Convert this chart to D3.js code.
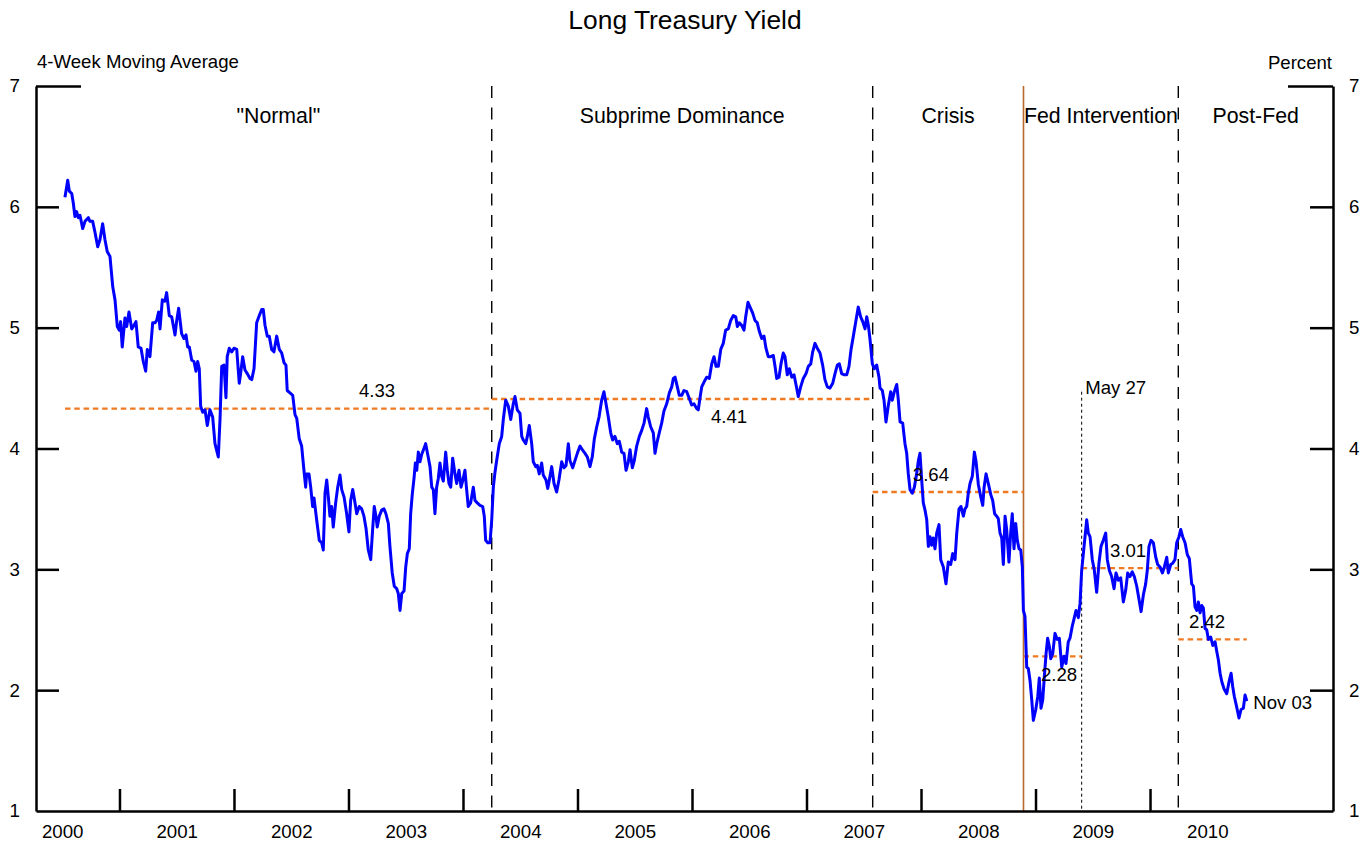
<!DOCTYPE html>
<html>
<head>
<meta charset="utf-8">
<script src="https://cdn.jsdelivr.net/npm/d3@7"></script>
<style>
  body { margin: 0; background: #fff; }
  svg { display: block; font-family: "Liberation Sans", Arial, sans-serif; }
  .axis path, .axis line { stroke: #000; stroke-width: 2.5; }
  .axis text { font-size: 18.7px; fill: #000; }
</style>
</head>
<body>
<svg id="chart" width="1372" height="843"></svg>
<script>
// weekly 4-week moving average, dates as decimal years
const weekDate = [
  2000.524,2000.548,2000.562,2000.583,2000.597,2000.611,2000.626,2000.640,2000.655,2000.679,
  2000.699,2000.728,2000.742,2000.766,2000.786,2000.810,2000.830,2000.853,2000.873,2000.893,
  2000.917,2000.941,2000.961,2000.981,2000.998,2001.010,2001.024,2001.048,2001.063,2001.083,
  2001.107,2001.121,2001.144,2001.164,2001.188,2001.208,2001.229,2001.243,2001.266,2001.290,
  2001.310,2001.325,2001.342,2001.354,2001.374,2001.397,2001.412,2001.435,2001.456,2001.485,
  2001.500,2001.517,2001.543,2001.563,2001.581,2001.596,2001.610,2001.631,2001.651,2001.668,
  2001.683,2001.697,2001.709,2001.727,2001.747,2001.767,2001.790,2001.814,2001.834,2001.863,
  2001.878,2001.893,2001.913,2001.930,2001.941,2001.959,2001.980,2002.000,2002.024,2002.046,
  2002.058,2002.076,2002.096,2002.116,2002.140,2002.155,2002.175,2002.198,2002.221,2002.242,
  2002.256,2002.271,2002.291,2002.308,2002.329,2002.349,2002.373,2002.396,2002.417,2002.437,
  2002.454,2002.465,2002.489,2002.513,2002.533,2002.548,2002.570,2002.591,2002.611,2002.626,
  2002.634,2002.655,2002.670,2002.687,2002.699,2002.722,2002.745,2002.766,2002.780,2002.795,
  2002.810,2002.824,2002.838,2002.853,2002.867,2002.888,2002.906,2002.926,2002.941,2002.961,
  2002.984,2003.004,2003.019,2003.037,2003.057,2003.072,2003.094,2003.115,2003.135,2003.153,
  2003.173,2003.194,2003.211,2003.225,2003.240,2003.251,2003.269,2003.290,2003.310,2003.327,
  2003.348,2003.362,2003.382,2003.400,2003.421,2003.435,2003.450,2003.465,2003.485,2003.500,
  2003.514,2003.531,2003.543,2003.557,2003.572,2003.584,2003.596,2003.610,2003.624,2003.639,
  2003.659,2003.674,2003.692,2003.712,2003.727,2003.741,2003.755,2003.770,2003.784,2003.799,
  2003.814,2003.828,2003.849,2003.863,2003.878,2003.893,2003.910,2003.930,2003.945,2003.965,
  2003.983,2003.997,2004.017,2004.032,2004.046,2004.067,2004.090,2004.105,2004.125,2004.148,
  2004.172,2004.186,2004.198,2004.216,2004.236,2004.251,2004.265,2004.279,2004.294,2004.317,
  2004.338,2004.352,2004.373,2004.396,2004.417,2004.439,2004.454,2004.474,2004.498,2004.513,
  2004.527,2004.548,2004.562,2004.579,2004.600,2004.614,2004.635,2004.649,2004.666,2004.687,
  2004.701,2004.725,2004.740,2004.754,2004.775,2004.795,2004.818,2004.838,2004.862,2004.882,
  2004.900,2004.920,2004.934,2004.958,2004.978,2005.002,2005.022,2005.042,2005.066,2005.086,
  2005.109,2005.129,2005.147,2005.168,2005.188,2005.211,2005.231,2005.249,2005.269,2005.290,
  2005.307,2005.327,2005.348,2005.365,2005.386,2005.406,2005.424,2005.444,2005.459,2005.479,
  2005.496,2005.517,2005.540,2005.561,2005.581,2005.604,2005.618,2005.639,2005.662,2005.677,
  2005.692,2005.714,2005.735,2005.755,2005.779,2005.802,2005.823,2005.837,2005.852,2005.872,
  2005.889,2005.910,2005.930,2005.954,2005.974,2005.997,2006.017,2006.041,2006.055,2006.070,
  2006.085,2006.105,2006.128,2006.151,2006.172,2006.192,2006.210,2006.230,2006.251,2006.273,
  2006.294,2006.317,2006.338,2006.361,2006.382,2006.396,2006.413,2006.434,2006.454,2006.469,
  2006.489,2006.507,2006.530,2006.550,2006.570,2006.588,2006.609,2006.629,2006.646,2006.666,
  2006.687,2006.710,2006.725,2006.740,2006.760,2006.777,2006.797,2006.812,2006.832,2006.850,
  2006.871,2006.891,2006.908,2006.928,2006.949,2006.972,2006.996,2007.016,2007.037,2007.054,
  2007.074,2007.094,2007.118,2007.141,2007.161,2007.182,2007.205,2007.229,2007.249,2007.269,
  2007.287,2007.307,2007.327,2007.351,2007.371,2007.389,2007.409,2007.432,2007.452,2007.473,
  2007.491,2007.511,2007.526,2007.540,2007.555,2007.575,2007.593,2007.613,2007.633,2007.642,
  2007.662,2007.677,2007.694,2007.715,2007.735,2007.749,2007.767,2007.788,2007.802,2007.817,
  2007.840,2007.860,2007.875,2007.889,2007.904,2007.924,2007.942,2007.962,2007.977,2007.991,
  2008.006,2008.020,2008.035,2008.050,2008.064,2008.079,2008.093,2008.107,2008.122,2008.137,
  2008.157,2008.172,2008.195,2008.218,2008.238,2008.259,2008.277,2008.297,2008.312,2008.332,
  2008.349,2008.370,2008.384,2008.399,2008.413,2008.428,2008.448,2008.466,2008.481,2008.501,
  2008.522,2008.539,2008.551,2008.568,2008.588,2008.609,2008.626,2008.643,2008.661,2008.675,
  2008.690,2008.705,2008.719,2008.734,2008.748,2008.768,2008.783,2008.797,2008.812,2008.827,
  2008.841,2008.856,2008.871,2008.885,2008.894,2008.908,2008.923,2008.937,2008.952,2008.967,
  2008.981,2009.002,2009.020,2009.033,2009.048,2009.063,2009.077,2009.092,2009.106,2009.121,
  2009.133,2009.150,2009.170,2009.190,2009.208,2009.229,2009.249,2009.266,2009.286,2009.301,
  2009.321,2009.339,2009.354,2009.374,2009.389,2009.403,2009.424,2009.447,2009.461,2009.476,
  2009.496,2009.514,2009.534,2009.554,2009.572,2009.592,2009.613,2009.627,2009.645,2009.665,
  2009.686,2009.703,2009.723,2009.744,2009.767,2009.788,2009.805,2009.825,2009.845,2009.863,
  2009.884,2009.904,2009.922,2009.942,2009.962,2009.976,2009.991,2010.009,2010.029,2010.050,
  2010.067,2010.087,2010.108,2010.125,2010.146,2010.160,2010.181,2010.198,2010.218,2010.233,
  2010.253,2010.268,2010.285,2010.306,2010.326,2010.343,2010.364,2010.379,2010.393,2010.408,
  2010.422,2010.437,2010.452,2010.466,2010.481,2010.495,2010.510,2010.530,2010.548,2010.568,
  2010.583,2010.597,2010.612,2010.627,2010.647,2010.670,2010.690,2010.708,2010.722,2010.736,
  2010.757,2010.777,2010.795,2010.815,2010.830,2010.845
];
const weekYield = [
  6.08,6.22,6.13,6.11,6.03,5.92,5.96,5.91,5.93,5.82,
  5.88,5.91,5.88,5.88,5.79,5.67,5.73,5.86,5.73,5.63,
  5.59,5.34,5.23,5.01,4.98,5.05,4.84,5.08,5.01,5.13,
  4.99,5.01,5.05,4.84,4.83,4.72,4.64,4.82,4.76,5.04,
  5.04,5.06,5.13,4.99,5.23,5.22,5.29,5.10,5.09,4.94,
  5.06,5.16,4.95,4.91,4.94,4.84,4.84,4.73,4.72,4.64,
  4.72,4.66,4.35,4.30,4.32,4.19,4.32,4.26,4.04,3.93,
  4.24,4.68,4.69,4.42,4.76,4.83,4.80,4.83,4.82,4.54,
  4.62,4.76,4.65,4.62,4.58,4.57,4.66,5.04,5.10,5.15,
  5.15,5.02,4.93,4.93,4.82,4.80,4.93,4.82,4.79,4.71,
  4.69,4.48,4.46,4.44,4.28,4.25,4.08,4.02,3.82,3.68,
  3.79,3.79,3.68,3.52,3.59,3.41,3.24,3.22,3.16,3.63,
  3.74,3.60,3.44,3.52,3.35,3.55,3.68,3.78,3.66,3.60,
  3.46,3.31,3.57,3.66,3.55,3.46,3.52,3.50,3.44,3.34,
  3.16,3.08,3.33,3.52,3.44,3.35,3.44,3.49,3.50,3.46,
  3.38,3.19,2.97,2.86,2.84,2.80,2.66,2.80,2.82,3.02,
  3.13,3.17,3.46,3.62,3.75,3.88,3.82,3.97,3.89,3.95,
  4.00,4.04,3.95,3.85,3.68,3.66,3.46,3.68,3.75,3.88,
  3.77,3.73,3.97,3.82,3.71,3.68,3.92,3.79,3.71,3.82,
  3.68,3.73,3.82,3.66,3.52,3.55,3.68,3.57,3.55,3.53,
  3.52,3.44,3.24,3.22,3.22,3.41,3.68,3.80,3.90,4.04,
  4.10,4.24,4.40,4.35,4.24,4.37,4.43,4.32,4.29,4.10,
  4.07,4.04,4.10,4.19,4.04,3.89,3.85,3.86,3.79,3.88,
  3.78,3.74,3.67,3.74,3.85,3.71,3.64,3.74,3.89,3.84,
  3.86,4.04,3.90,3.84,3.90,3.97,4.02,3.99,3.96,3.93,
  3.85,3.93,4.08,4.18,4.26,4.40,4.47,4.37,4.26,4.13,
  4.07,4.10,4.04,4.06,3.97,3.96,3.82,3.89,3.99,3.84,
  3.90,4.02,4.10,4.15,4.21,4.33,4.26,4.18,4.13,3.96,
  4.04,4.13,4.21,4.31,4.37,4.46,4.51,4.58,4.59,4.51,
  4.44,4.44,4.48,4.47,4.42,4.36,4.37,4.33,4.32,4.42,
  4.51,4.55,4.59,4.58,4.70,4.76,4.68,4.68,4.82,4.87,
  4.98,4.99,5.06,5.10,5.09,5.01,5.04,5.02,4.98,5.09,
  5.21,5.17,5.12,5.06,5.04,4.97,4.91,4.93,4.83,4.76,
  4.76,4.77,4.68,4.58,4.59,4.70,4.79,4.76,4.61,4.66,
  4.59,4.61,4.53,4.43,4.51,4.58,4.62,4.68,4.70,4.80,
  4.87,4.83,4.79,4.69,4.57,4.51,4.50,4.54,4.62,4.69,
  4.70,4.62,4.61,4.61,4.68,4.82,4.93,5.06,5.17,5.09,
  5.05,4.99,5.09,5.02,4.90,4.70,4.66,4.69,4.59,4.50,
  4.48,4.40,4.22,4.36,4.47,4.40,4.47,4.53,4.40,4.22,
  4.21,4.04,3.96,3.79,3.66,3.63,3.68,3.79,3.90,3.96,
  3.74,3.55,3.49,3.41,3.19,3.27,3.20,3.26,3.17,3.30,
  3.37,3.08,3.02,2.88,3.06,3.04,3.13,3.08,3.30,3.50,
  3.52,3.44,3.50,3.52,3.63,3.71,3.77,3.97,3.89,3.70,
  3.60,3.53,3.68,3.79,3.71,3.62,3.57,3.46,3.44,3.42,
  3.30,3.26,3.04,3.44,3.33,3.06,3.30,3.46,3.17,3.38,
  3.24,3.17,3.16,3.02,2.66,2.61,2.19,2.18,2.08,1.92,
  1.75,1.84,1.95,2.10,1.85,1.92,2.11,2.30,2.43,2.36,
  2.26,2.30,2.47,2.42,2.43,2.19,2.28,2.22,2.40,2.43,
  2.53,2.60,2.66,2.60,2.72,2.99,3.19,3.41,3.30,3.27,
  3.08,2.99,2.81,3.05,3.19,3.24,3.30,3.08,2.99,2.94,
  2.84,2.97,2.91,2.93,2.73,2.83,2.97,2.94,2.98,2.94,
  2.86,2.75,2.65,2.79,2.88,2.99,3.19,3.24,3.22,3.10,
  3.04,3.02,2.97,3.02,3.10,2.97,3.04,3.05,3.08,3.22,
  3.27,3.33,3.27,3.22,3.12,3.09,2.88,2.86,2.69,2.66,
  2.73,2.64,2.70,2.68,2.51,2.50,2.42,2.44,2.37,2.40,
  2.32,2.25,2.14,2.07,2.01,1.97,2.07,2.14,2.03,1.95,
  1.86,1.77,1.84,1.85,1.96,1.91
];

// regimes
const regimeNames = ['"Normal"', "Subprime Dominance", "Crisis", "Fed Intervention", "Post-Fed"];
const regimeStart = [2000.524, 2004.251, 2007.578, 2008.895, 2010.247];
const regimeEnd   = [2004.251, 2007.578, 2008.895, 2010.247, 2011.598];

// sub-period averages
const avgStart = [2000.524, 2004.251, 2007.578, 2008.895, 2009.403, 2010.247];
const avgEnd   = [2004.251, 2007.578, 2008.895, 2009.403, 2010.247, 2010.845];
const avgValue = [4.33, 4.41, 3.64, 2.28, 3.01, 2.42];
const avgLabelAt = [2003.249, 2006.323, 2008.087, 2009.205, 2009.808, 2010.498];
const avgLabelBelow = [false, true, false, true, false, false];

const dashedBreaks = [2004.251, 2007.578, 2010.247];
const fedDate = 2008.895;
const may27 = 2009.403, may27Top = 4.47;
const yearTicks = d3.range(2001, 2011);
const yearLabels = d3.range(2000, 2011);
const yTicks = [2, 3, 4, 5, 6];
const yLabels = [1, 2, 3, 4, 5, 6, 7];

const svg = d3.select("#chart");
const L = 36, R = 1333, T = 86, B = 811;

const x = d3.scaleLinear().domain([2000.271, 2011.598]).range([L, R]);
const y = d3.scaleLinear().domain([1, 7]).range([B, T]);

// titles
svg.append("text").attr("x", 685).attr("y", 29).attr("text-anchor", "middle")
  .style("font-size", "26.4px").text("Long Treasury Yield");
svg.append("text").attr("x", 37).attr("y", 68).style("font-size", "18.6px").text("4-Week Moving Average");
svg.append("text").attr("x", 1332).attr("y", 69).attr("text-anchor", "end").style("font-size", "18.6px").text("Percent");

// regime separators
svg.selectAll(".brk").data(dashedBreaks).enter().append("line")
  .attr("x1", d => x(d)).attr("x2", d => x(d)).attr("y1", T).attr("y2", B)
  .attr("stroke", "#000").attr("stroke-width", 1.4).attr("stroke-dasharray", "12,9.5");

svg.append("line").attr("x1", x(fedDate)).attr("x2", x(fedDate)).attr("y1", T).attr("y2", B)
  .attr("stroke", "#b8692e").attr("stroke-width", 1.6);

svg.append("line").attr("x1", x(may27)).attr("x2", x(may27)).attr("y1", y(may27Top)).attr("y2", B)
  .attr("stroke", "#000").attr("stroke-width", 1).attr("stroke-dasharray", "3,3");
svg.append("text").attr("x", x(may27) + 3.5).attr("y", y(may27Top) + 2.5)
  .style("font-size", "18.6px").text("May 27");

svg.selectAll(".regime").data(regimeNames).enter().append("text")
  .attr("x", (d, i) => (x(regimeStart[i]) + x(regimeEnd[i])) / 2)
  .attr("y", 123).attr("text-anchor", "middle").style("font-size", "21.3px")
  .text(d => d);

// averages
svg.selectAll(".avg").data(avgValue).enter().append("line")
  .attr("x1", (d, i) => x(avgStart[i])).attr("x2", (d, i) => x(avgEnd[i]))
  .attr("y1", d => y(d)).attr("y2", d => y(d))
  .attr("stroke", "#f07a22").attr("stroke-width", 2.4).attr("stroke-dasharray", "5.5,3.8");

// yield line
const pts = weekDate.map((d, i) => [d, weekYield[i]]);
svg.append("path").datum(pts)
  .attr("fill", "none").attr("stroke", "#0000ff").attr("stroke-width", 3)
  .attr("stroke-linejoin", "round")
  .attr("d", d3.line().x(d => x(d[0])).y(d => y(d[1])));

svg.selectAll(".avgLbl").data(avgValue).enter().append("text")
  .attr("x", (d, i) => x(avgLabelAt[i]))
  .attr("y", (d, i) => y(d) + (avgLabelBelow[i] ? 24.5 : -11.5))
  .attr("text-anchor", "middle").style("font-size", "18.6px")
  .text(d => d.toFixed(2));

const last = pts[pts.length - 1];
svg.append("text").attr("x", x(last[0]) + 6.5).attr("y", y(last[1]) + 8)
  .style("font-size", "18.6px").text("Nov 03");

// axes
svg.append("g").attr("class", "axis").attr("transform", `translate(0,${B})`)
  .call(d3.axisBottom(x).tickValues(yearTicks).tickSize(-22).tickSizeOuter(0).tickFormat(""));
svg.append("g").attr("class", "axis").attr("transform", `translate(0,${B})`)
  .call(d3.axisBottom(x).tickValues(yearLabels.map(v => v + 0.5)).tickSize(0).tickPadding(14)
    .tickFormat(d => Math.floor(d)))
  .call(g => g.select(".domain").remove());

svg.append("g").attr("class", "axis").attr("transform", `translate(${L},0)`)
  .call(d3.axisLeft(y).tickValues(yTicks).tickSize(-23).tickSizeOuter(0).tickFormat(""));
svg.append("g").attr("class", "axis").attr("transform", `translate(${L},0)`)
  .call(d3.axisLeft(y).tickValues([7]).tickSize(-45).tickSizeOuter(0).tickFormat(""))
  .call(g => g.select(".domain").remove());
svg.append("g").attr("class", "axis").attr("transform", `translate(${L},0)`)
  .call(d3.axisLeft(y).tickValues(yLabels).tickSize(0).tickPadding(16).tickFormat(d3.format("d")))
  .call(g => g.select(".domain").remove());

svg.append("g").attr("class", "axis").attr("transform", `translate(${R},0)`)
  .call(d3.axisRight(y).tickValues(yTicks).tickSize(-23).tickSizeOuter(0).tickFormat(""));
svg.append("g").attr("class", "axis").attr("transform", `translate(${R},0)`)
  .call(d3.axisRight(y).tickValues([7]).tickSize(-45).tickSizeOuter(0).tickFormat(""))
  .call(g => g.select(".domain").remove());
svg.append("g").attr("class", "axis").attr("transform", `translate(${R},0)`)
  .call(d3.axisRight(y).tickValues(yLabels).tickSize(0).tickPadding(16).tickFormat(d3.format("d")))
  .call(g => g.select(".domain").remove());
</script>
</body>
</html>
